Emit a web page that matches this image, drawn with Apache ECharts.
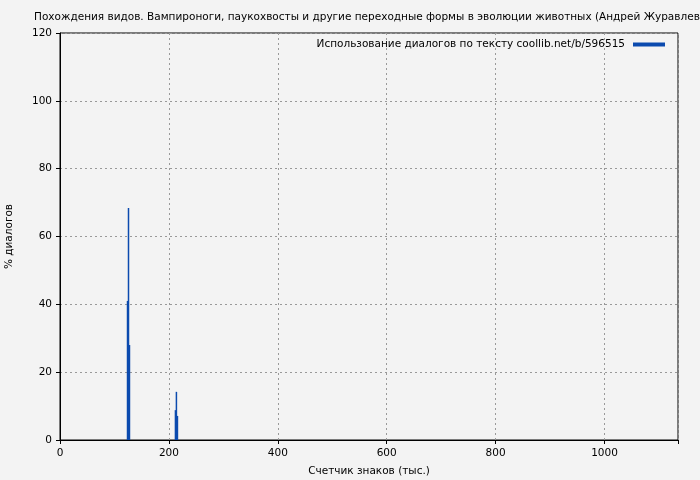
<!DOCTYPE html>
<html>
<head>
<meta charset="utf-8">
<script src="https://cdn.jsdelivr.net/npm/echarts@6/dist/echarts.min.js"></script>
<style>
  html, body { margin: 0; padding: 0; background: #f3f3f3; }
  #chart { width: 700px; height: 480px; }
</style>
</head>
<body>
<div id="chart"></div>
<script>
// позиции (тыс. знаков) и % диалогов
var positions = [124, 125.8, 127.6, 212, 213.8, 215.7];
var dialogPct = [41, 68.4, 28, 8.8, 14.2, 7.1];
var xTicks = [0, 200, 400, 600, 800, 1000];
var yTicks = [0, 20, 40, 60, 80, 100, 120];

var titleText = 'Похождения видов. Вампироноги, паукохвосты и другие переходные формы в эволюции животных (Андрей Журавлев)';
var seriesName = 'Использование диалогов по тексту coollib.net/b/596515';

var points = [];
for (var i = 0; i < positions.length; i++) {
    points.push([positions[i], dialogPct[i]]);
}

var myChart = echarts.init(document.getElementById('chart'));
var font = 'DejaVu Sans';
var fs = 10.5;

var option = {
    backgroundColor: '#f3f3f3',
    animation: false,
    title: {
        text: titleText,
        left: 34,
        top: 12,
        padding: 0,
        textStyle: { fontFamily: font, fontSize: fs, fontWeight: 'normal', color: '#000' }
    },
    legend: {
        data: [seriesName],
        right: 35,
        top: 39,
        padding: 0,
        align: 'right',
        icon: 'rect',
        itemWidth: 32,
        itemHeight: 4,
        itemGap: 0,
        textStyle: { fontFamily: font, fontSize: fs, color: '#000', padding: [0, 3, 0, 0] }
    },
    grid: {
        left: 60, right: 22, top: 33, bottom: 40,
        outerBoundsMode: 'none',
        containLabel: false,
        show: true, borderColor: '#000', borderWidth: 1
    },
    xAxis: {
        type: 'value',
        min: 0,
        max: 1135,
        interval: 200,
        name: 'Счетчик знаков (тыс.)',
        nameLocation: 'middle',
        nameGap: 26,
        nameTextStyle: { fontFamily: font, fontSize: fs, color: '#000' },
        axisLine: { show: true, lineStyle: { color: '#000' } },
        axisTick: { show: true, length: 4, lineStyle: { color: '#000' } },
        axisLabel: {
            fontFamily: font, fontSize: fs, color: '#000', margin: 8,
            formatter: function (v) { return xTicks.indexOf(v) >= 0 ? v : ''; }
        },
        splitLine: { show: true, lineStyle: { color: '#999', type: [2, 3] } }
    },
    yAxis: {
        type: 'value',
        min: 0,
        max: 120,
        interval: 20,
        name: '% диалогов',
        nameLocation: 'middle',
        nameGap: 45,
        nameTextStyle: { fontFamily: font, fontSize: fs, color: '#000' },
        axisLine: { show: true, lineStyle: { color: '#000' } },
        axisTick: { show: true, length: 4, lineStyle: { color: '#000' } },
        axisLabel: {
            fontFamily: font, fontSize: fs, color: '#000', margin: 8,
            formatter: function (v) { return yTicks.indexOf(v) >= 0 ? v : ''; }
        },
        splitLine: { show: true, lineStyle: { color: '#999', type: [2, 3] } }
    },
    series: [
        {
            name: seriesName,
            type: 'bar',
            data: points,
            barWidth: 1.5,
            barGap: '-100%',
            itemStyle: { color: '#0b4aae' }
        }
    ]
};

myChart.setOption(option);
</script>
</body>
</html>
